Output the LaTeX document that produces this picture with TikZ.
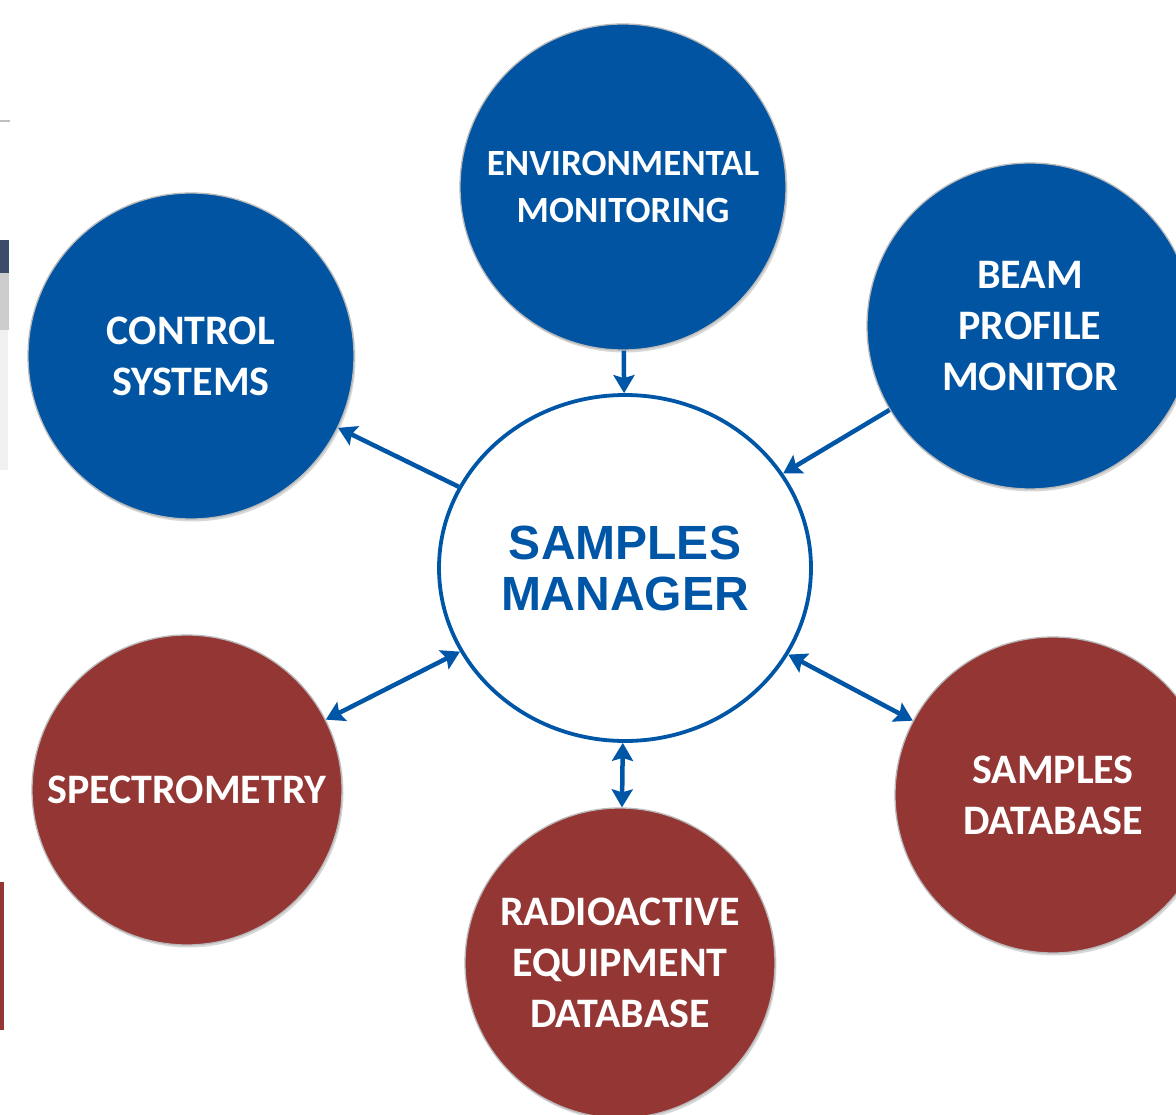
\documentclass[tikz,border=0pt]{standalone}
\usepackage{fontspec}
\newfontfamily\calib{Carlito}
\newfontfamily\arialf{Liberation Sans}
\usetikzlibrary{shapes.geometric,arrows.meta,shadows}
\definecolor{cblue}{RGB}{0,84,162}
\definecolor{cred}{RGB}{148,54,52}
\definecolor{lblue}{RGB}{0,86,166}
\definecolor{edgeblue}{RGB}{60,75,105}
\tikzset{
  bubble/.style={circle, inner sep=0pt, draw=gray!55, line width=1.3pt, text=white, align=center,
    font=\calib\bfseries\fontsize{42}{51}\selectfont,
    drop shadow={shadow xshift=1.5pt, shadow yshift=-2.5pt, opacity=0.3}},
  bluebub/.style={bubble, fill=cblue},
  redbub/.style={bubble, fill=cred},
  hub/.style={ellipse, inner sep=0pt, draw=lblue, line width=3.8pt, fill=white, text=lblue, align=center,
    minimum width=372pt, minimum height=346pt,
    font=\arialf\bfseries\fontsize{48}{51}\selectfont},
  link/.style={draw=lblue, line width=4.5pt, -{Stealth[length=18pt,width=21pt,inset=3pt]}},
  link2/.style={draw=lblue, line width=4.5pt, {Stealth[length=18pt,width=21pt,inset=3pt]}-{Stealth[length=18pt,width=21pt,inset=3pt]}}
}
\begin{document}
\begin{tikzpicture}[x=1pt,y=-1pt]
\useasboundingbox (0,0) rectangle (1176,1115);
\clip (0,0) rectangle (1176,1115);
\fill[white] (0,0) rectangle (1176,1115);
% left-edge fragments
\draw[gray!50, line width=2pt] (0,121) -- (10,121);
\fill[gray!12] (0,330) rectangle (8,470);
\fill[edgeblue] (0,240) rectangle (9,273);
\fill[gray!40] (0,273) rectangle (9,330);
\fill[cred] (0,882) rectangle (4,1030);
% nodes
\node[bluebub, minimum size=326pt, font=\calib\bfseries\fontsize{37}{47}\selectfont] (env) at (623,187) {ENVIRONMENTAL\\MONITORING};
\node[bluebub, minimum size=326pt] (ctrl) at (191,356) {CONTROL\\SYSTEMS};
\node[bluebub, minimum size=326pt] (beam) at (1030,326) {BEAM\\PROFILE\\MONITOR};
\node[redbub, minimum size=310pt] (spec) at (187,790) {SPECTROMETRY};
\node[redbub, minimum size=310pt] (rad) at (620,963) {RADIOACTIVE\\EQUIPMENT\\DATABASE};
\node[redbub, minimum size=316pt] (sdb) at (1053,795) {SAMPLES\\DATABASE};
\node[hub] (mgr) at (625,568) {SAMPLES\\MANAGER};
% connectors
\draw[link] (env) -- (mgr);
\draw[link] (beam) -- (mgr);
\draw[link] (mgr) -- (ctrl);
\draw[link2] (mgr) -- (spec);
\draw[link2] (mgr) -- (sdb);
\draw[link2] (mgr) -- (rad);
\end{tikzpicture}
\end{document}
